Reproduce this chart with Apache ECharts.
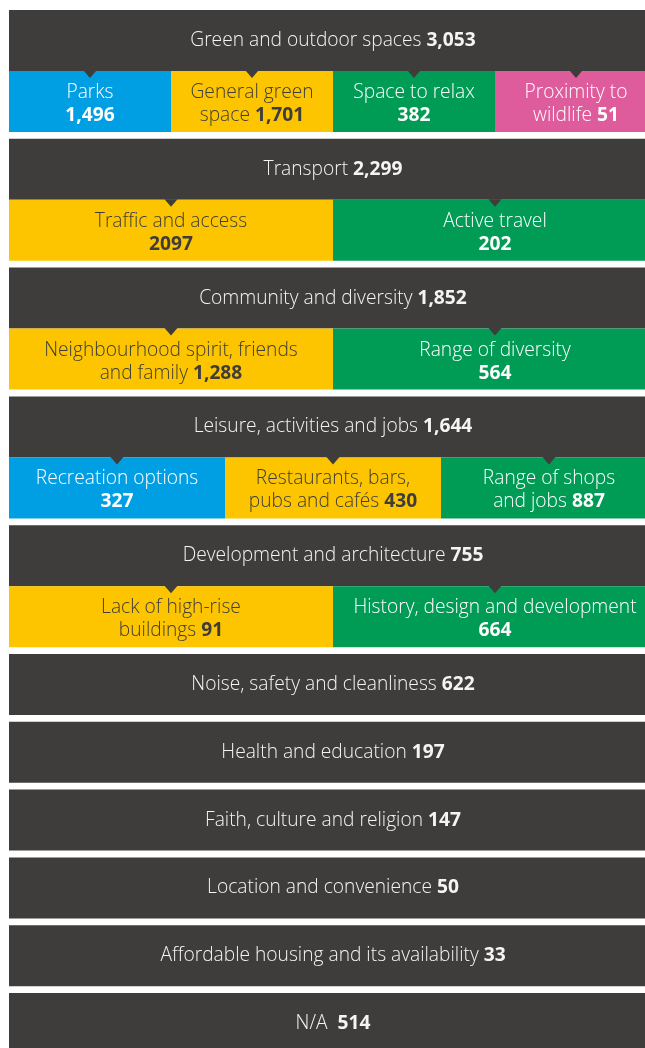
<!DOCTYPE html>
<html>
<head>
<meta charset="utf-8">
<script src="https://cdn.jsdelivr.net/npm/echarts@6/dist/echarts.min.js"></script>
<style>
  html, body { margin: 0; padding: 0; background: #fff; }
  #chart { width: 645px; height: 1048px; }
</style>
</head>
<body>
<div id="chart"></div>
<script>
// top level themes and counts
var mainNames = ['Green and outdoor spaces', 'Transport', 'Community and diversity',
  'Leisure, activities and jobs', 'Development and architecture', 'Noise, safety and cleanliness',
  'Health and education', 'Faith, culture and religion', 'Location and convenience',
  'Affordable housing and its availability', 'N/A']
var mainValues = [3053, 2299, 1852, 1644, 755, 622, 197, 147, 50, 33, 514]

// sub themes ('\n' marks where the label wraps; no '\n' = number on its own line)
var subNames = [
  ['Parks', 'General green\nspace', 'Space to relax', 'Proximity to\nwildlife'],
  ['Traffic and access', 'Active travel'],
  ['Neighbourhood spirit, friends\nand family', 'Range of diversity'],
  ['Recreation options', 'Restaurants, bars,\npubs and cafés', 'Range of shops\nand jobs'],
  ['Lack of high-rise\nbuildings', 'History, design and development'],
  [], [], [], [], [], []
]
var subValues = [
  [1496, 1701, 382, 51],
  [2097, 202],
  [1288, 564],
  [327, 430, 887],
  [91, 664],
  [], [], [], [], [], []
]
var plainNumbers = [2097] // printed without thousands separator in the source

var DARK = '#3e3d3b'
var BLUE = '#009fe3'
var YELLOW = '#fdc400'
var GREEN = '#009b55'
var PINK = '#de5b9c'
var paletteByCount = { 2: [YELLOW, GREEN], 3: [BLUE, YELLOW, GREEN], 4: [BLUE, YELLOW, GREEN, PINK] }
var FONT = '"Open Sans", "Noto Sans", sans-serif'
var FONT_SIZE = 19.2
var ROW_PX = 61
var GAP = 6.8 / ROW_PX

function fmt (v) {
  if (plainNumbers.indexOf(v) >= 0) return String(v)
  return v.toLocaleString('en-GB')
}

// build the cells: [x0, x1, y0, y1, kind, block, sub]
var cells = []
var y = 0
mainNames.forEach(function (name, i) {
  cells.push([0, 1, y, y + 1, 0, i, -1])
  var n = subNames[i].length
  if (n) {
    for (var j = 0; j < n; j++) {
      cells.push([j / n, (j + 1) / n, y + 1, y + 2, 1, i, j])
    }
    y += 2 + GAP
  } else {
    y += 1 + GAP
  }
})
var totalUnits = y - GAP

function richStyles (fill, size) {
  return {
    n: { fontFamily: FONT, fontSize: size, fontWeight: 300, fill: fill, lineHeight: 23 },
    b: { fontFamily: FONT, fontSize: size, fontWeight: 'bold', fill: fill, lineHeight: 23 }
  }
}

function renderItem (params, api) {
  var x0 = api.value(0), x1 = api.value(1), y0 = api.value(2), y1 = api.value(3)
  var kind = api.value(4), bi = api.value(5), si = api.value(6)
  var p0 = api.coord([x0, y0])
  var p1 = api.coord([x1, y1])
  var cx = (p0[0] + p1[0]) / 2
  var cy = (p0[1] + p1[1]) / 2
  var children = []
  if (kind === 0) {
    children.push({ type: 'rect', shape: { x: p0[0], y: p0[1], width: p1[0] - p0[0], height: p1[1] - p0[1] }, style: { fill: DARK } })
    var sep = mainNames[bi] === 'N/A' ? '  ' : ' '
    children.push({
      type: 'text',
      style: {
        x: cx, y: cy, align: 'center', verticalAlign: 'middle',
        text: '{n|' + mainNames[bi] + sep + '}{b|' + fmt(mainValues[bi]) + '}',
        rich: richStyles('#f4f4f4', FONT_SIZE)
      }
    })
  } else {
    var n = subNames[bi].length
    var color = paletteByCount[n][si]
    var txtFill = color === YELLOW ? '#3e3d3b' : '#ffffff'
    var nm = subNames[bi][si]
    var lines = nm.split('\n')
    var txt
    if (lines.length > 1) {
      txt = '{n|' + lines[0] + '}\n{n|' + lines[1] + ' }{b|' + fmt(subValues[bi][si]) + '}'
    } else {
      txt = '{n|' + nm + '}\n{b|' + fmt(subValues[bi][si]) + '}'
    }
    children.push({ type: 'rect', shape: { x: p0[0], y: p0[1], width: p1[0] - p0[0], height: p1[1] - p0[1] }, style: { fill: color } })
    children.push({ type: 'polygon', shape: { points: [[cx - 6.5, p0[1] - 0.5], [cx + 6.5, p0[1] - 0.5], [cx, p0[1] + 7]] }, style: { fill: DARK } })
    children.push({
      type: 'text',
      style: {
        x: cx, y: cy + 2.5, align: 'center', verticalAlign: 'middle',
        text: txt,
        rich: richStyles(txtFill, FONT_SIZE)
      }
    })
  }
  return { type: 'group', children: children }
}

var chart = echarts.init(document.getElementById('chart'), null, { renderer: 'canvas' })
chart.setOption({
  animation: false,
  grid: { left: 9, top: 10, width: 648, height: totalUnits * ROW_PX, outerBoundsMode: 'none', containLabel: false },
  xAxis: { type: 'value', min: 0, max: 1, show: false },
  yAxis: { type: 'value', min: 0, max: totalUnits, inverse: true, show: false },
  series: [{
    type: 'custom',
    renderItem: renderItem,
    clip: false,
    encode: { x: [0, 1], y: [2, 3] },
    data: cells
  }]
})
</script>
</body>
</html>
